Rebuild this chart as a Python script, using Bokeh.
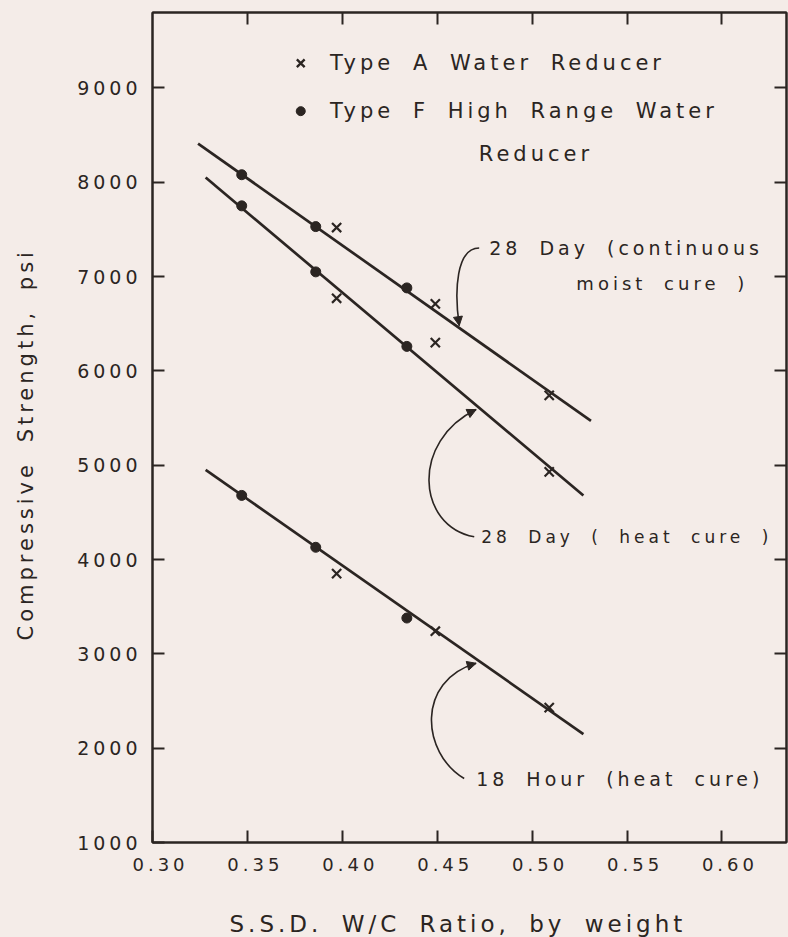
from bokeh.plotting import figure
from bokeh.models import (FixedTicker, NumeralTickFormatter, LinearAxis, Range1d, Title,
                          Arrow, NormalHead, GlobalInlineStyleSheet)
from bokeh.core.properties import value
from bokeh.embed import file_html
from bokeh.resources import INLINE

# ---------------- data ----------------
wc_type_f = [0.347, 0.386, 0.434]          # Type F HRWR (dots)
wc_type_a = [0.397, 0.449, 0.509]          # Type A WR (crosses)

moist28_f = [8080, 7530, 6880]
moist28_a = [7520, 6710, 5740]
heat28_f = [7750, 7050, 6260]
heat28_a = [6770, 6300, 4930]
hour18_f = [4680, 4130, 3380]
hour18_a = [3850, 3240, 2430]

fit_moist_x = [0.324, 0.531]
fit_moist_y = [8410, 5470]
fit_heat_x = [0.328, 0.527]
fit_heat_y = [8050, 4680]
fit_18_x = [0.328, 0.527]
fit_18_y = [4950, 2150]

x_ticks = [0.30, 0.35, 0.40, 0.45, 0.50, 0.55, 0.60]
y_ticks = [1000, 2000, 3000, 4000, 5000, 6000, 7000, 8000, 9000]

x_title = "S.S.D. W/C Ratio, by weight"
y_title = "Compressive Strength, psi"
legend_labels = ["Type A Water Reducer", "Type F High Range Water", "Reducer"]
curve_labels = ["28 Day (continuous", "18 Hour (heat cure)"]
moist_label = ["moist cure )"]
heat_label = ["28 Day ( heat cure )"]

# annotation curves (data units): start, control1, control2, end
crv_x0 = [0.4721, 0.4695, 0.4642]
crv_y0 = [7303, 4241, 1678]
crv_cx0 = [0.4600, 0.4389, 0.4415]
crv_cy0 = [7303, 4358, 1953]
crv_cx1 = [0.4589, 0.4362, 0.4389]
crv_cy1 = [6847, 5258, 2716]
crv_x1 = [0.4616, 0.4705, 0.4705]
crv_y1 = [6480, 5590, 2900]

INK = "#2b2522"
PAPER = "#f4ece8"
FONT = "DejaVu Sans"

p = figure(width=788, height=937, x_range=Range1d(0.30, 0.634), y_range=Range1d(1000, 9800),
           output_backend="svg", toolbar_location=None,
           min_border_left=152, min_border_right=2, min_border_top=12, min_border_bottom=95,
           background_fill_color=PAPER, border_fill_color=PAPER)
p.stylesheets = [
    GlobalInlineStyleSheet(css="html,body{background:%s; letter-spacing:4px; word-spacing:8px; overflow:hidden;}" % PAPER),
]
p.grid.visible = False
p.outline_line_color = INK
p.outline_line_width = 2

for ax in (p.xaxis[0], p.yaxis[0]):
    ax.axis_line_color = INK
    ax.axis_line_width = 2
    ax.major_tick_in = 12
    ax.major_tick_out = 0
    ax.major_tick_line_color = INK
    ax.major_tick_line_width = 2
    ax.minor_tick_line_color = None
    ax.major_label_text_font = FONT
    ax.major_label_text_color = INK

p.xaxis.ticker = FixedTicker(ticks=x_ticks)
p.xaxis.formatter = NumeralTickFormatter(format="0.00")
p.xaxis.major_label_text_font_size = "18px"
p.xaxis.major_label_standoff = 15

p.yaxis.ticker = FixedTicker(ticks=y_ticks)
p.yaxis.formatter = NumeralTickFormatter(format="0")
p.yaxis.major_label_text_font_size = "19px"
p.yaxis.major_label_standoff = 27

# tick-only axes on the top and right edges
for loc, ticks in (("above", x_ticks[1:]), ("right", y_ticks[1:])):
    ax = LinearAxis(ticker=FixedTicker(ticks=ticks), major_label_text_font_size="1px",
                    major_label_text_color=None, major_label_standoff=0,
                    major_tick_in=12, major_tick_out=0,
                    major_tick_line_color=INK, major_tick_line_width=2,
                    minor_tick_line_color=None, axis_line_color=INK, axis_line_width=2)
    p.add_layout(ax, loc)

# blank spacer axes (paper-coloured), so the titles sit further out
for loc, gap, tick in (("below", 35, 0.625), ("left", 37, 9500)):
    sp = LinearAxis(ticker=FixedTicker(ticks=[tick]), major_label_text_font_size="1px",
                    major_label_text_color=None, major_label_standoff=0,
                    major_tick_in=0, major_tick_out=gap, major_tick_line_color=PAPER,
                    major_tick_line_width=1, minor_tick_line_color=None, minor_tick_out=0,
                    axis_line_color=None)
    p.add_layout(sp, loc)

# axis titles (placed as side titles so their start point is fixed)
p.add_layout(Title(text=x_title, align="left", offset=77, standoff=0, text_font=FONT,
                   text_font_size="23px", text_font_style="normal", text_color=INK), "below")
p.add_layout(Title(text=y_title, align="left", offset=202, standoff=0, text_font=FONT,
                   text_font_size="21px", text_font_style="normal", text_color=INK), "left")

# fitted lines
for fx, fy in ((fit_moist_x, fit_moist_y), (fit_heat_x, fit_heat_y), (fit_18_x, fit_18_y)):
    p.line(fx, fy, line_color=INK, line_width=2.7)

# data points
for ys in (moist28_f, heat28_f, hour18_f):
    p.scatter(wc_type_f, ys, marker="circle", size=10, fill_color=INK, line_color=INK)
for ys in (moist28_a, heat28_a, hour18_a):
    p.scatter(wc_type_a, ys, marker="x", size=13, line_color=INK, line_width=2.2)

# legend
p.scatter([0.3781], [9262], marker="x", size=11, line_color=INK, line_width=2.4)
p.scatter([0.3781], [8754], marker="circle", size=9, fill_color=INK, line_color=INK)
p.text(x=[0.3935, 0.3935, 0.4719], y=[9262, 8754, 8299], text=legend_labels, text_font=value(FONT),
       text_font_size="21px", text_color=INK, text_baseline="middle", text_align="left")

# curve annotations
p.bezier(x0=crv_x0, y0=crv_y0, x1=crv_x1, y1=crv_y1, cx0=crv_cx0, cy0=crv_cy0,
         cx1=crv_cx1, cy1=crv_cy1, line_color=INK, line_width=1.6)
for i in range(3):
    p.add_layout(Arrow(end=NormalHead(size=9, fill_color=INK, line_color=INK),
                       x_start=crv_cx1[i], y_start=crv_cy1[i], x_end=crv_x1[i], y_end=crv_y1[i],
                       line_alpha=0))
p.text(x=[0.4774, 0.4705], y=[7303, 1678], text=curve_labels,
       text_font=value(FONT), text_font_size="19px", text_color=INK,
       text_baseline="middle", text_align="left")
p.text(x=[0.5233], y=[6922], text=moist_label,
       text_font=value(FONT), text_font_size="18px", text_color=INK,
       text_baseline="middle", text_align="left")
p.text(x=[0.4732], y=[4241], text=heat_label,
       text_font=value(FONT), text_font_size="17px", text_color=INK,
       text_baseline="middle", text_align="left")

open("out.html", "w").write(file_html(p, INLINE))
